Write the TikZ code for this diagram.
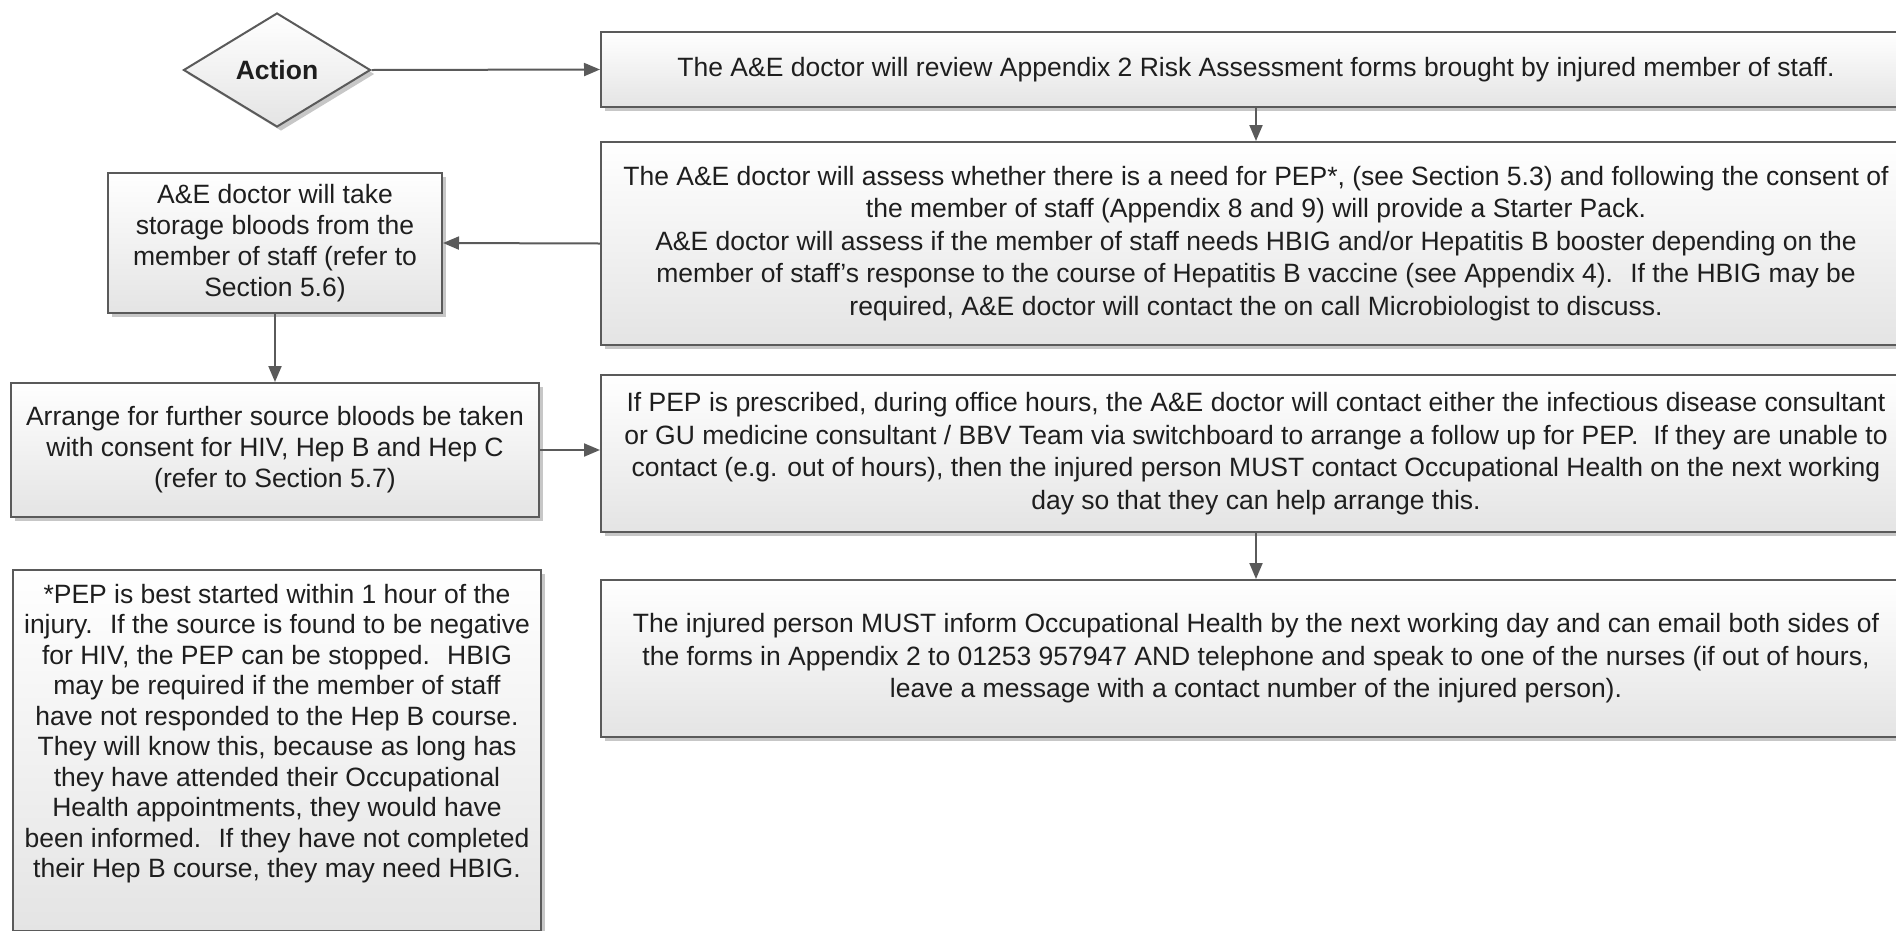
\documentclass[tikz,border=0pt]{standalone}
\usepackage{fontspec}
\setmainfont{Liberation Sans}
\usetikzlibrary{shapes.geometric,arrows.meta,shadows}
\definecolor{edgec}{HTML}{5A5A5A}
\definecolor{shadeb}{HTML}{E4E4E4}
\definecolor{txtc}{HTML}{1E1E1E}
\begin{document}
\begin{tikzpicture}[x=1pt,y=-1pt,
  box/.style={draw=edgec, line width=2pt, top color=white, bottom color=shadeb,
    drop shadow={shadow xshift=4pt, shadow yshift=-4pt, opacity=0.22, fill=black},
    align=center, inner sep=0pt, text=txtc},
  rbox/.style={box, minimum width=1310pt, font=\fontsize{26.5}{32.5}\selectfont},
  lbox/.style={box, font=\fontsize{26.5}{31}\selectfont},
  conn/.style={draw=edgec, line width=2pt, -{Triangle[length=16pt,width=13pt]}}
]
\useasboundingbox[fill=white] (0,0) rectangle (1896,930);

\node[box, diamond, aspect=1.64, minimum width=187pt, minimum height=114pt,
  font=\bfseries\fontsize{26.5}{30}\selectfont] (act) at (277,70) {Action};

\node[rbox, minimum height=75pt] (n1) at (1256,69.5)
  {The A\&E doctor will review Appendix 2 Risk Assessment forms brought by injured member of staff.};

\node[rbox, minimum height=203pt] (n2) at (1256,243.5)
  {The A\&E doctor will assess whether there is a need for PEP*, (see Section 5.3) and following the consent of\\
   the member of staff (Appendix 8 and 9) will provide a Starter Pack.\\
   A\&E doctor will assess if the member of staff needs HBIG and/or Hepatitis B booster depending on the\\
   member of staff's response to the course of Hepatitis B vaccine (see Appendix 4).~ If the HBIG may be\\
   required, A\&E doctor will contact the on call Microbiologist to discuss.};

\node[rbox, minimum height=157pt] (n4) at (1256,453.5)
  {If PEP is prescribed, during office hours, the A\&E doctor will contact either the infectious disease consultant\\
   or GU medicine consultant / BBV Team via switchboard to arrange a follow up for PEP.~ If they are unable to\\
   contact (e.g. out of hours), then the injured person MUST contact Occupational Health on the next working\\
   day so that they can help arrange this.};

\node[rbox, minimum height=157pt] (n6) at (1256,658.5)
  {The injured person MUST inform Occupational Health by the next working day and can email both sides of\\
   the forms in Appendix 2 to 01253 957947 AND telephone and speak to one of the nurses (if out of hours,\\
   leave a message with a contact number of the injured person).};

\node[lbox, minimum width=334pt, minimum height=140pt] (l1) at (275,243)
  {A\&E doctor will take\\ storage bloods from the\\ member of staff (refer to\\ Section 5.6)};

\node[lbox, minimum width=528pt, minimum height=134pt] (l3) at (275,450)
  {Arrange for further source bloods be taken\\ with consent for HIV, Hep B and Hep C\\ (refer to Section 5.7)};

\node[lbox, minimum width=528pt, minimum height=361pt, font=\fontsize{26.5}{30.5}\selectfont] (note) at (277,750.75)
  {*PEP is best started within 1 hour of the\\
   injury.~ If the source is found to be negative\\
   for HIV, the PEP can be stopped.~ HBIG\\
   may be required if the member of staff\\
   have not responded to the Hep B course.\\
   They will know this, because as long has\\
   they have attended their Occupational\\
   Health appointments, they would have\\
   been informed.~ If they have not completed\\
   their Hep B course, they may need HBIG.\\
   \strut};

\draw[conn] (act.east) -- (n1.west);
\draw[conn] (n1.south) -- (n2.north);
\draw[conn] (n2.west) -- (l1.east);
\draw[conn] (l1.south) -- (l3.north);
\draw[conn] (l3.east) -- (l3.east -| n4.west);
\draw[conn] (n4.south) -- (n6.north);
\end{tikzpicture}
\end{document}
